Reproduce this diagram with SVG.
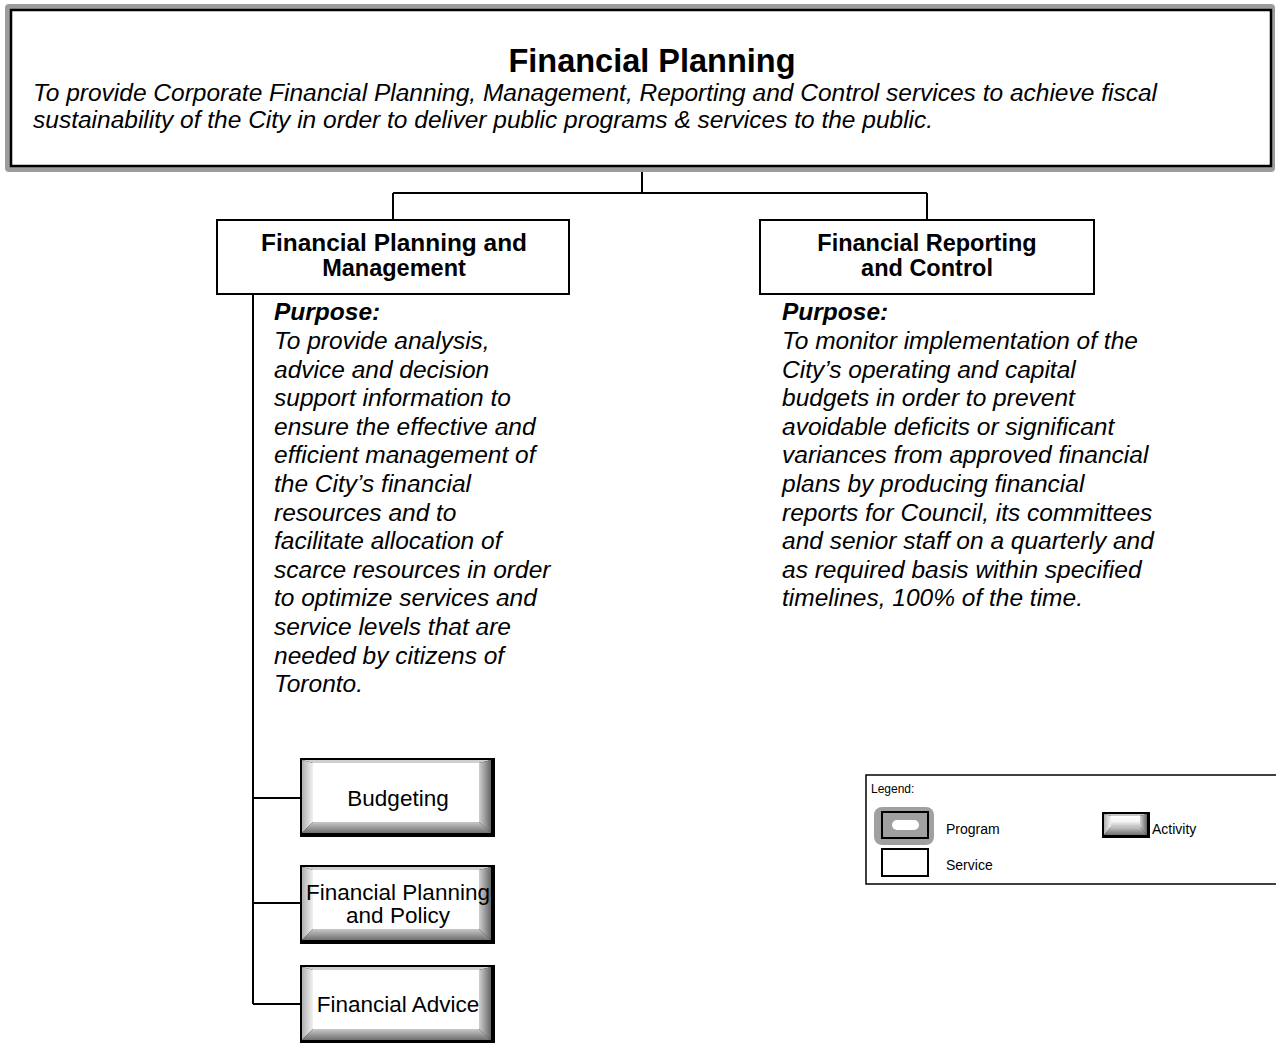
<svg xmlns="http://www.w3.org/2000/svg" width="1276" height="1043" viewBox="0 0 1276 1043">
<style>
text{font-family:"Liberation Sans",Arial,sans-serif;fill:#000}
.title{font-size:32.5px;font-weight:bold;text-anchor:middle}
.desc{font-size:24.5px;font-style:italic}
.svc{font-size:23.5px;font-weight:bold;text-anchor:middle}
.pur{font-size:24.5px;font-style:italic}
.purh{font-size:24.5px;font-style:italic;font-weight:bold}
.act{font-size:22.5px;text-anchor:middle}
.leg{font-size:14px}
.box{fill:#fff;stroke:#000;stroke-width:2}
.conn{fill:none;stroke:#000;stroke-width:2}
</style>
<defs>
<linearGradient id="gl" x1="0" y1="0" x2="1" y2="0"><stop offset="0" stop-color="#b0b0b0"/><stop offset="1" stop-color="#f2f2f2"/></linearGradient>
<linearGradient id="gr" x1="0" y1="0" x2="1" y2="0"><stop offset="0" stop-color="#d0d0d0"/><stop offset="1" stop-color="#666"/></linearGradient>
<linearGradient id="gb" x1="0" y1="0" x2="0" y2="1"><stop offset="0" stop-color="#c8c8c8"/><stop offset="1" stop-color="#707070"/></linearGradient>
<linearGradient id="gf" x1="0" y1="0" x2="0" y2="1"><stop offset="0" stop-color="#fff"/><stop offset="0.5" stop-color="#f4f4f4"/><stop offset="1" stop-color="#bdbdbd"/></linearGradient>
<g id="actbox">
<rect x="0" y="0" width="195" height="79" fill="#000"/>
<polygon points="2,2 191,2 179,5 13,5" fill="#cfcfcf"/>
<polygon points="2,2 13,5 13,64 2,75" fill="url(#gl)"/>
<polygon points="191,2 191,75 179,64 179,5" fill="url(#gr)"/>
<polygon points="2,75 13,64 179,64 191,75" fill="url(#gb)"/>
<rect x="13" y="5" width="166" height="59" fill="#fff"/>
</g>
<g id="acticon">
<rect x="0" y="0" width="48" height="26" fill="#000"/>
<polygon points="2,2 45,2 38,4 9,4" fill="#c8c8c8"/>
<polygon points="2,2 9,4 9,15 2,23" fill="url(#gl)"/>
<polygon points="45,2 45,23 38,15 38,4" fill="url(#gr)"/>
<polygon points="2,23 9,15 38,15 45,23" fill="url(#gb)"/>
<rect x="9" y="4" width="29" height="11" fill="url(#gf)"/>
</g>
</defs>

<g id="connectors">
<path class="conn" d="M642,166 V193 M393,193 H927 M393,193 V220 M927,193 V220"/>
<path class="conn" d="M253,294 V1004 M253,798 H300 M253,903 H300 M253,1004 H300"/>
</g>

<g id="program">
<rect x="5" y="4" width="1270" height="168" rx="4" fill="#9c9c9c"/>
<rect x="11" y="10" width="1260" height="156" fill="#fff" stroke="#000" stroke-width="2.5"/>
<text class="title" x="652" y="72">Financial Planning</text>
<text class="desc" x="33" y="101">To provide Corporate Financial Planning, Management, Reporting and Control services to achieve fiscal</text>
<text class="desc" x="33" y="128">sustainability of the City in order to deliver public programs &amp; services to the public.</text>
</g>

<g id="service-fpm">
<rect class="box" x="217" y="220" width="352" height="74"/>
<text class="svc" x="394" y="251" textLength="266" lengthAdjust="spacingAndGlyphs">Financial Planning and</text>
<text class="svc" x="394" y="276">Management</text>
</g>

<g id="service-frc">
<rect class="box" x="760" y="220" width="334" height="74"/>
<text class="svc" x="927" y="251">Financial Reporting</text>
<text class="svc" x="927" y="276">and Control</text>
</g>

<g id="purpose-fpm">
<text class="purh" x="274" y="320">Purpose:</text>
<text class="pur" x="274" y="349">To provide analysis,</text>
<text class="pur" x="274" y="377.6">advice and decision</text>
<text class="pur" x="274" y="406.2">support information to</text>
<text class="pur" x="274" y="434.8">ensure the effective and</text>
<text class="pur" x="274" y="463.4">efficient management of</text>
<text class="pur" x="274" y="492">the City’s financial</text>
<text class="pur" x="274" y="520.6">resources and to</text>
<text class="pur" x="274" y="549.2">facilitate allocation of</text>
<text class="pur" x="274" y="577.8">scarce resources in order</text>
<text class="pur" x="274" y="606.4">to optimize services and</text>
<text class="pur" x="274" y="635">service levels that are</text>
<text class="pur" x="274" y="663.6">needed by citizens of</text>
<text class="pur" x="274" y="692.2">Toronto.</text>
</g>

<g id="purpose-frc">
<text class="purh" x="782" y="320">Purpose:</text>
<text class="pur" x="782" y="349">To monitor implementation of the</text>
<text class="pur" x="782" y="377.6">City’s operating and capital</text>
<text class="pur" x="782" y="406.2">budgets in order to prevent</text>
<text class="pur" x="782" y="434.8">avoidable deficits or significant</text>
<text class="pur" x="782" y="463.4">variances from approved financial</text>
<text class="pur" x="782" y="492">plans by producing financial</text>
<text class="pur" x="782" y="520.6">reports for Council, its committees</text>
<text class="pur" x="782" y="549.2">and senior staff on a quarterly and</text>
<text class="pur" x="782" y="577.8">as required basis within specified</text>
<text class="pur" x="782" y="606.4">timelines, 100% of the time.</text>
</g>

<g id="activity-budgeting">
<use href="#actbox" x="300" y="758"/>
<text class="act" x="398" y="806">Budgeting</text>
</g>

<g id="activity-fpp">
<use href="#actbox" x="300" y="865"/>
<text class="act" x="398" y="900">Financial Planning</text>
<text class="act" x="398" y="923">and Policy</text>
</g>

<g id="activity-advice">
<use href="#actbox" x="300" y="965"/>
<text class="act" x="398" y="1012">Financial Advice</text>
</g>

<g id="legend">
<rect x="866" y="775" width="420" height="109" fill="#fff" stroke="#000" stroke-width="1.5"/>
<text class="leg" x="871" y="793" style="font-size:12px">Legend:</text>
<rect x="874" y="807" width="60" height="38" rx="8" fill="#a0a0a0"/>
<rect x="882" y="812" width="46" height="26" fill="#a0a0a0" stroke="#000" stroke-width="2"/>
<rect x="892" y="820" width="27" height="10" rx="5" fill="#fff"/>
<text class="leg" x="946" y="834">Program</text>
<rect x="882" y="849" width="46" height="27" fill="#fff" stroke="#000" stroke-width="2"/>
<text class="leg" x="946" y="870">Service</text>
<use href="#acticon" x="1102" y="812"/>
<text class="leg" x="1152" y="834">Activity</text>
</g>
</svg>
